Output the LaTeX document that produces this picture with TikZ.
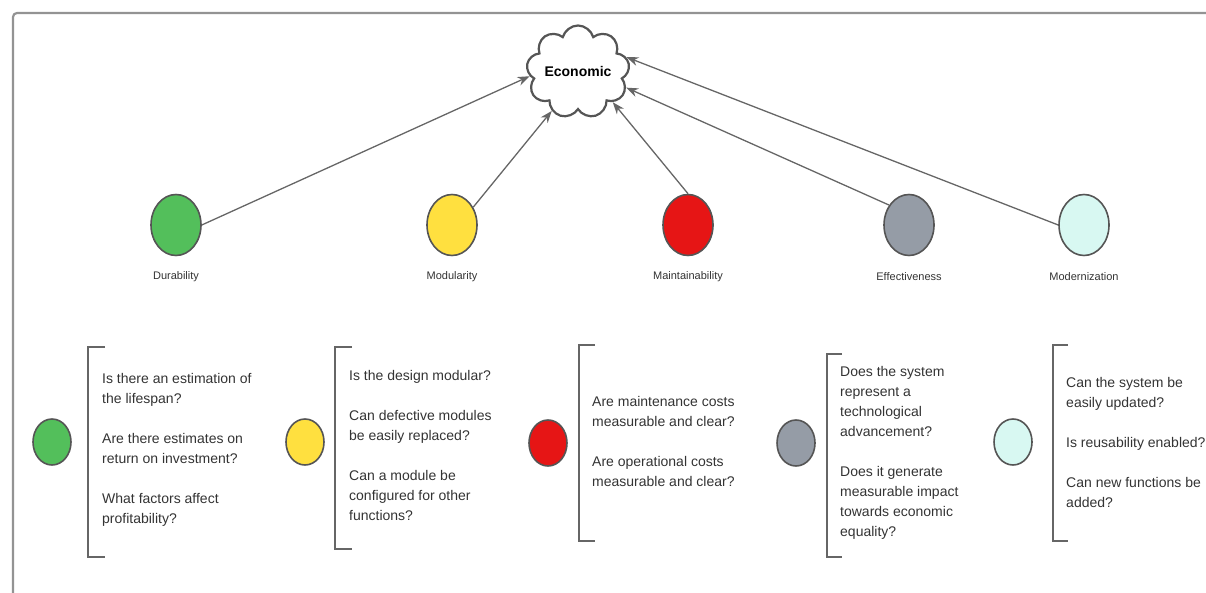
\documentclass[tikz,border=0pt]{standalone}
\usepackage{fontspec}
\setmainfont{Liberation Sans}
\usetikzlibrary{shapes.symbols,shapes.geometric,arrows.meta}
\definecolor{durgreen}{HTML}{53BF5B}
\definecolor{modyellow}{HTML}{FFE03F}
\definecolor{maired}{HTML}{E61515}
\definecolor{effgrey}{HTML}{959CA6}
\definecolor{mdzcyan}{HTML}{D8F8F2}
\definecolor{edgegrey}{HTML}{555555}
\definecolor{txtgrey}{HTML}{333333}
\tikzset{
  dot/.style={ellipse,draw=edgegrey,line width=1.6pt,inner sep=0pt},
  big/.style={dot,minimum width=50,minimum height=61},
  small/.style={dot,minimum width=38,minimum height=46},
  lab/.style={text=txtgrey,font=\fontsize{11}{13}\selectfont},
  ques/.style={anchor=west,align=left,inner sep=0pt,text=txtgrey,font=\fontsize{14}{20}\selectfont},
  conn/.style={-{Stealth[length=12pt,width=9pt]},draw=edgegrey!90,line width=1.3pt},
  brk/.style={draw=edgegrey!90,line width=1.8pt}
}
\begin{document}
\begin{tikzpicture}[x=1pt,y=-1pt]
\useasboundingbox (0,0) rectangle (1206,593);
\draw[gray!85,line width=2.2pt,rounded corners=4] (13,593) -- (13,13) -- (1206,13);
\node[cloud,cloud puffs=9,aspect=1.2,inner sep=-2pt,minimum width=98,minimum height=84,draw=edgegrey,line width=2.2pt,font=\bfseries\fontsize{14}{16}\selectfont] (eco) at (578,72) {Economic};
% upper row
\node[big,fill=durgreen] (dur) at (176,225) {};
\node[big,fill=modyellow] (mod) at (452,225) {};
\node[big,fill=maired] (mai) at (688,225) {};
\node[big,fill=effgrey] (eff) at (909,225) {};
\node[big,fill=mdzcyan] (mdz) at (1084,225) {};
\node[lab] (durl) at (176,277) {Durability};
\node[lab] (modl) at (452,277) {Modularity};
\node[lab] (mail) at (688,277) {Maintainability};
\node[lab] (effl) at (909,277) {Effectiveness};
\node[lab] (mdzl) at (1084,277) {Modernization};
\draw[conn] (dur.east) -- (eco.185);
\draw[conn] (mod.40) -- (eco.236);
\draw[conn] (mai.north) -- (eco.-41);
\draw[conn] (eff.135) -- (eco.-18);
\draw[conn] (mdz.west) -- (eco.17);
% lower row
\node[small,fill=durgreen] (dur2) at (52,442) {};
\node[small,fill=modyellow] (mod2) at (305,442) {};
\node[small,fill=maired] (mai2) at (548,443) {};
\node[small,fill=effgrey] (eff2) at (796,443) {};
\node[small,fill=mdzcyan] (mdz2) at (1013,442) {};
\draw[brk] (105,347) -| (88,557) -- (105,557);
\draw[brk] (352,347) -| (335,549) -- (352,549);
\draw[brk] (595,345) -| (579,541) -- (595,541);
\draw[brk] (842,354) -| (827,557) -- (842,557);
\draw[brk] (1068,345) -| (1053,541) -- (1068,541);
\node[ques] (durq) at (102,450) {Is there an estimation of\\the lifespan?\\[20pt]Are there estimates on\\return on investment?\\[20pt]What factors affect\\profitability?};
\node[ques] (modq) at (349,445) {Is the design modular?\\[20pt]Can defective modules\\be easily replaced?\\[20pt]Can a module be\\configured for other\\functions?};
\node[ques] (maiq) at (592,441) {Are maintenance costs\\measurable and clear?\\[20pt]Are operational costs\\measurable and clear?};
\node[ques] (effq) at (840,453) {Does the system\\represent a\\technological\\advancement?\\[20pt]Does it generate\\measurable impact\\towards economic\\equality?};
\node[ques] (mdzq) at (1066,442) {Can the system be\\easily updated?\\[20pt]Is reusability enabled?\\[20pt]Can new functions be\\added?};
\end{tikzpicture}
\end{document}
